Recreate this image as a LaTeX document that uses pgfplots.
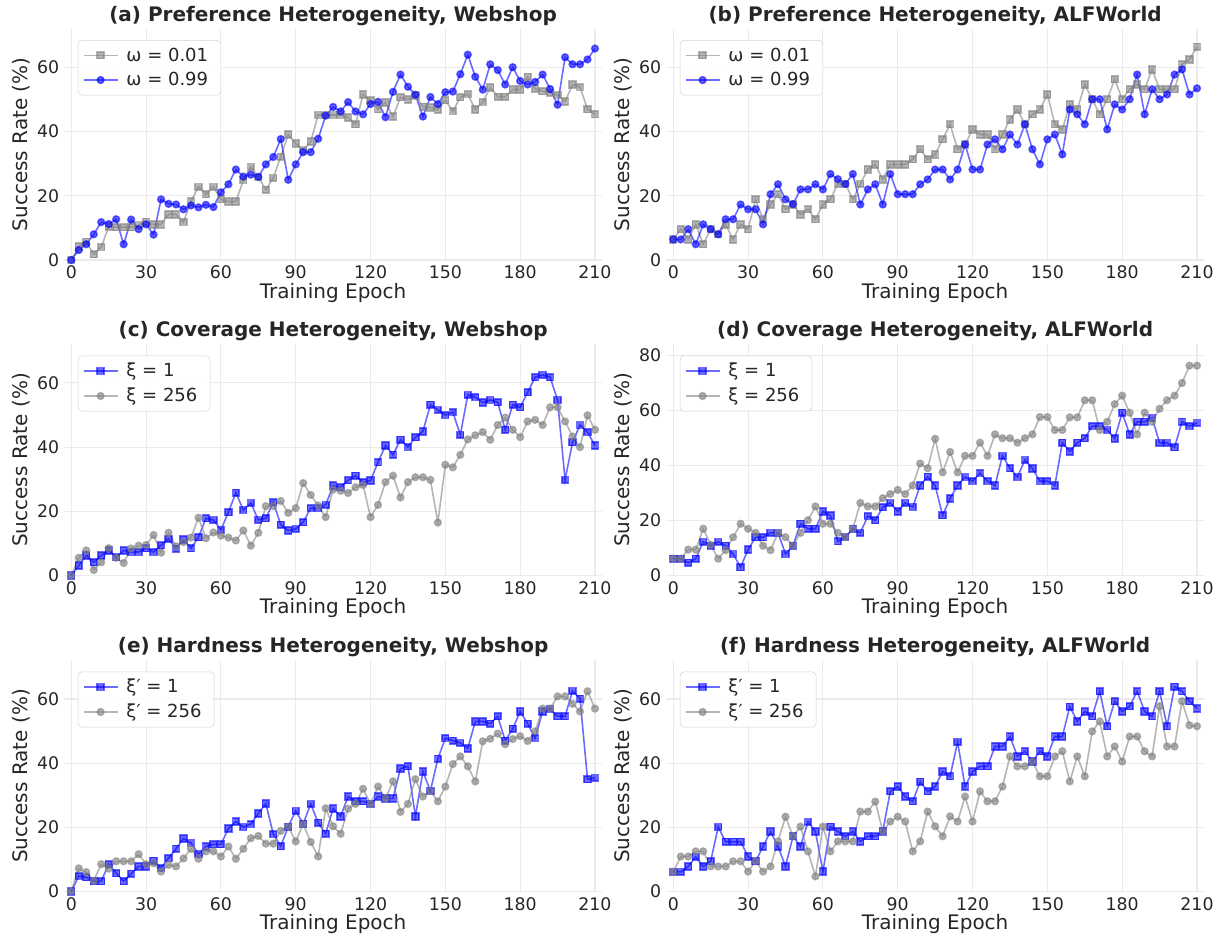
\documentclass[border=0pt]{standalone}
\usepackage{fontspec}
\setmainfont{DejaVu Sans}
\usepackage{pgfplots}
\usepackage{pgfplotstable}
\pgfplotsset{compat=1.18}
\definecolor{gridc}{HTML}{EBEBEB}
\definecolor{txt}{HTML}{262626}
\definecolor{legc}{HTML}{D4D4D4}

\pgfplotstableread{
e g b
0 0 0
3 4.2 3.1
6 5.7 4.9
9 1.8 8
12 4 11.8
15 10.4 11.2
18 10.2 12.7
21 10.2 4.9
24 10.2 12.6
27 10.9 9.6
30 11.9 11.1
33 11.1 7.9
36 11.1 18.9
39 14.2 17.5
42 14.2 17.3
45 11.8 15.8
48 18.3 17
51 22.8 16.4
54 20.5 17.2
57 22.8 16.5
60 18.9 21.1
63 18.2 23.6
66 18.2 28.2
69 24.9 26
72 29 26.6
75 25.9 25.9
78 21.9 29.8
81 25.6 32.1
84 32.2 37.7
87 39.1 25
90 36.3 29.8
93 34.3 33.6
96 36.9 33.6
99 45.2 37.8
102 45.2 45
105 45.2 47.7
108 45.2 46.3
111 44.4 49.2
114 42.3 46.3
117 51.6 45.4
120 49.8 48.6
123 47 49.3
126 49.1 44.5
129 44.7 52.4
132 50.7 57.8
135 50 54
138 51.3 51.5
141 47.8 44.7
144 47.5 50.8
147 46.9 48.6
150 49.8 52.3
153 46.4 52.5
156 50.7 57.9
159 51.7 64
162 46.9 57.1
165 49.2 53.1
168 53.8 61
171 50.9 59.2
174 50.9 54.7
177 53.1 60.1
180 53.1 55.8
183 57.1 54.7
186 53.4 55.5
189 52.6 57.8
192 52.1 53.3
195 51.4 48.4
198 49.4 63.2
201 54.7 61
204 53.9 61
207 47 62.5
210 45.4 65.9
}\tA

\pgfplotstableread{
e g b
0 6.4 6.4
3 9.6 6.4
6 6.4 9.6
9 11.1 4.9
12 4.9 11.1
15 9.6 9.6
18 8 8
21 11.1 12.7
24 6.4 12.7
27 11.1 17.3
30 9.6 15.8
33 18.9 15.8
36 12.7 11.1
39 17.3 20.5
42 20.5 23.6
45 15.8 18.9
48 17.3 17.4
51 14.2 22
54 15.8 22
57 12.7 23.6
60 17.3 22
63 18.9 26.8
66 23.7 25.2
69 23.7 23.7
72 18.9 26.8
75 23.7 17.3
78 28.2 22
81 29.8 23.6
84 25.1 17.3
87 29.8 26.8
90 29.8 20.5
93 29.8 20.5
96 31.4 20.5
99 34.5 23.6
102 31.4 25.1
105 32.9 28.2
108 37.6 28.2
111 42.3 25.1
114 34.5 28.2
117 36 36
120 40.7 28.2
123 39.1 28.2
126 39.1 36
129 34.5 37.6
132 39.1 34.5
135 43.8 39.1
138 46.9 36
141 42.3 42.3
144 45.4 34.5
147 46.9 29.8
150 51.6 37.6
153 42.3 39.1
156 40.7 32.9
159 48.5 46.9
162 46.9 45.4
165 54.7 42.3
168 50.1 50.1
171 45.4 50.1
174 50.1 40.7
177 56.3 48.5
180 50.1 46.9
183 53.2 50.1
186 54.7 57.8
189 53.2 45.4
192 59.4 53.2
195 53.2 50.1
198 53.2 51.6
201 53.2 57.8
204 61 59.4
207 62.5 51.6
210 66.5 53.5
}\tB

\pgfplotstableread{
e b g
0 0 0
3 3.1 5.5
6 6.2 7.8
9 4.1 1.7
12 6.2 4.1
15 7.8 8.5
18 5.7 5.5
21 7.8 3.9
24 7.3 8.4
27 7.3 9.3
30 8.5 9.5
33 7.3 12.6
36 9.4 7.1
39 11.4 13.3
42 8.3 9.1
45 11.2 10.4
48 8.5 11.8
51 11.9 18
54 17.8 11.6
57 17.3 13.4
60 14.2 12.4
63 19.7 11.8
66 25.8 10.9
69 20.4 14
72 22.6 9.3
75 17.3 13.3
78 17.8 21.6
81 22.8 21.6
84 15.8 23.2
87 14 19.5
90 14.5 21
93 16.6 28.8
96 21 25.1
99 21 21.8
102 22 18.2
105 28 26.8
108 27.5 26.4
111 29.7 25.7
114 31.1 27.5
117 29.1 28.2
120 29.6 18.2
123 35.3 22
126 40.5 29.1
129 37.6 31.1
132 42.3 24.3
135 40 29.1
138 43.1 30.6
141 44.9 30.6
144 53.2 29.8
147 51.6 16.5
150 50 34.5
153 50.9 33.7
156 43.8 37.6
159 56.3 42.4
162 55.6 43.7
165 53.9 44.7
168 54.7 42.3
171 54 46.9
174 45.4 49.2
177 53.2 45.4
180 52.4 43.1
183 57.1 48
186 61.8 48.5
189 62.5 46.9
192 61.8 52.4
195 54.7 52.4
198 29.8 48
201 41.5 43.3
204 46.9 40
207 44.7 49.9
210 40.5 45.4
}\tC

\pgfplotstableread{
e b g
0 6.1 6.1
3 6.1 6.1
6 4.6 9.4
9 6.1 9.4
12 12.2 17
15 10.8 11.1
18 12.2 6.1
21 10.8 9.2
24 7.8 13.9
27 3 18.8
30 9.4 17
33 13.9 15.5
36 13.9 10.8
39 15.5 9.2
42 15.5 15.5
45 7.8 13.9
48 10.8 10.8
51 18.8 15.5
54 17 20.1
57 17 25.1
60 23.3 18.8
63 21.8 18.8
66 12.4 15.5
69 14 14
72 17 17
75 15.5 26.4
78 21.6 25.1
81 20.1 25.1
84 24.8 28.1
87 26.4 29.6
90 23.3 31.1
93 26.4 29.6
96 24.9 32.7
99 32.7 40.7
102 35.9 39
105 32.7 49.7
108 21.9 37.5
111 28 44.9
114 32.7 37.5
117 35.8 43.5
120 34.3 43.5
123 37.2 48.3
126 34.3 43.5
129 32.7 51.3
132 43.5 49.9
135 39 49.9
138 35.8 48.3
141 42 49.9
144 38.9 51.3
147 34.3 57.6
150 34.3 57.6
153 32.7 52.9
156 48.3 52.9
159 45.1 57.5
162 48.3 57.5
165 49.9 63.7
168 54.3 63.7
171 54.3 52.9
174 52.9 55.9
177 49.8 62.3
180 59.2 65.4
183 51.3 59.2
186 55.9 51.3
189 55.9 59.2
192 57.3 55.9
195 48.2 60.6
198 48.2 63.7
201 46.6 65.4
204 55.9 70
207 54.3 76.3
210 55.5 76.3
}\tD

\pgfplotstableread{
e b g
0 0 0
3 4.8 7.2
6 4.4 6
9 3.2 3.3
12 3.2 8.5
15 8.5 7.1
18 5.7 9.4
21 3.2 9.4
24 5.5 9.4
27 7.8 11.6
30 7.8 8.5
33 9.6 8.8
36 7.3 6.2
39 10.4 8.3
42 13.3 7.8
45 16.5 10.3
48 15.1 13.3
51 11.7 10.2
54 14 12.5
57 14.7 12.5
60 14.7 10.9
63 19.6 14
66 21.8 10.2
69 20.1 13.3
72 21 16.6
75 24.3 17.3
78 27.4 14.9
81 17.9 14.9
84 14.1 18.9
87 20.2 20.2
90 25.1 15.6
93 21.1 21
96 27.3 15.4
99 21.4 10.9
102 18 25.9
105 25.9 20.3
108 23.4 18
111 29.6 25.8
114 28.1 27.3
117 28.1 32
120 27.3 27.3
123 29.6 32.7
126 29 29
129 29 34.3
132 38.3 24.8
135 39 27.3
138 23.4 35
141 37.4 29.6
144 31.3 31.3
147 41.4 28.1
150 47.8 32.7
153 47 39.7
156 46.3 42.1
159 44.6 39
162 53 34.3
165 53 46.8
168 52.3 47.6
171 54.6 49.2
174 47 45.9
177 50.7 47.5
180 56.1 48.4
183 52.3 46.9
186 47.8 49.9
189 56.1 57
192 56.9 57
195 54.6 60.8
198 54.6 60.8
201 62.5 58.5
204 60.1 56.1
207 35 62.4
210 35.4 57
}\tE

\pgfplotstableread{
e b g
0 6.1 6.1
3 6.1 10.9
6 7.8 10.9
9 10.8 12.5
12 7.8 12.5
15 9.4 7.8
18 20.1 7.8
21 15.5 7.8
24 15.5 9.4
27 15.5 9.4
30 10.9 6.2
33 9.4 9.4
36 14 6.2
39 18.7 7.8
42 14 15.6
45 7.8 23.3
48 17.2 17.2
51 14 20.2
54 21.7 12.5
57 18.7 4.7
60 6.2 20.2
63 20.2 12.5
66 18.7 15.6
69 17.2 15.6
72 18.7 15.6
75 15.6 24.9
78 17.2 24.9
81 17.2 28
84 18.7 18.7
87 31.2 21.8
90 32.7 23.3
93 29.6 21.8
96 28.1 12.5
99 34.2 15.6
102 31.2 24.9
105 32.7 20.3
108 37.4 17.2
111 35.9 23.4
114 46.6 21.8
117 32.7 29.6
120 37.4 21.8
123 39 31.2
126 39 28.1
129 45.2 28.1
132 45.2 32.7
135 48.3 42.1
138 42.1 39
141 43.7 39
144 40.5 40.5
147 43.7 35.9
150 42.1 35.9
153 48.3 42.1
156 48.3 43.7
159 57.6 34.3
162 53 42.1
165 56.1 35.9
168 54.6 49.9
171 62.4 53
174 51.5 42.1
177 59.3 45.2
180 56.1 40.5
183 57.7 48.3
186 62.4 48.3
189 56.1 43.7
192 54.6 42.1
195 62.4 57.7
198 51.5 45.2
201 63.8 45.2
204 62.4 59.3
207 59.3 51.8
210 57 51.5
}\tF

\pgfplotsset{
  panel/.style={
    scale only axis, width=404pt, height=173.25pt,
    anchor=south west,
    xmin=-3, xmax=213, ymin=0, ymax=72,
    xtick={0,30,...,210}, ytick={0,20,40,60},
    grid=major, major grid style={draw=gridc, line width=0.8pt},
    axis line style={draw=none}, major tick length=0pt, tick style={draw=none},
    /pgf/number format/assume math mode=true,
    tick label style={font=\fontsize{13}{15}\selectfont, text=txt},
    xticklabel style={yshift=-1pt},
    label style={font=\fontsize{15}{18}\selectfont, text=txt},
    xlabel={Training Epoch}, ylabel={Success Rate (\%)},
    xlabel style={yshift=4pt},
    ylabel style={yshift=-2pt},
    title style={font=\fontsize{15}{18}\selectfont\bfseries, text=txt, yshift=-7pt},
    clip=false,
    legend style={at={(axis description cs:0.026,0.952)}, anchor=north west,
      draw=legc, rounded corners=3pt, fill=white, fill opacity=0.85,
      draw opacity=1, text opacity=1, text=txt,
      font=\fontsize{13.5}{16}\selectfont, inner sep=3.5pt, row sep=3pt,
      nodes={inner xsep=6pt}},
    legend cell align=left,
    legend image code/.code={
      \draw[mark repeat=2,mark phase=2] plot coordinates {(0cm,0cm) (0.45cm,0cm) (0.9cm,0cm)};},
  },
  bl/.style={color=blue, opacity=0.58, line width=1.2pt, mark size=2.5pt, mark options={draw=none}},
  gr/.style={color=gray, opacity=0.58, line width=1.2pt, mark size=2.5pt, mark options={draw=none}},
}

\begin{document}
\begin{tikzpicture}
\useasboundingbox (0,0) rectangle (918.75pt,703.5pt);

% (a)
\begin{axis}[panel, at={(47.85pt,508.5pt)},
  title={(a) Preference Heterogeneity, Webshop}]
\addplot[gr, mark=square*] table[x=e,y=g]{\tA};
\addlegendentry{ω = 0.01}
\addplot[bl, mark=*] table[x=e,y=b]{\tA};
\addlegendentry{ω = 0.99}
\end{axis}

% (b)
\begin{axis}[panel, at={(499.35pt,508.5pt)},
  title={(b) Preference Heterogeneity, ALFWorld}]
\addplot[gr, mark=square*] table[x=e,y=g]{\tB};
\addlegendentry{ω = 0.01}
\addplot[bl, mark=*] table[x=e,y=b]{\tB};
\addlegendentry{ω = 0.99}
\end{axis}

% (c)
\begin{axis}[panel, at={(47.85pt,271.9pt)},
  title={(c) Coverage Heterogeneity, Webshop}]
\addplot[bl, mark=square*] table[x=e,y=b]{\tC};
\addlegendentry{ξ = 1}
\addplot[gr, mark=*] table[x=e,y=g]{\tC};
\addlegendentry{ξ = 256}
\end{axis}

% (d)
\begin{axis}[panel, at={(499.35pt,271.9pt)}, ymax=84, ytick={0,20,40,60,80},
  title={(d) Coverage Heterogeneity, ALFWorld}]
\addplot[bl, mark=square*] table[x=e,y=b]{\tD};
\addlegendentry{ξ = 1}
\addplot[gr, mark=*] table[x=e,y=g]{\tD};
\addlegendentry{ξ = 256}
\end{axis}

% (e)
\begin{axis}[panel, at={(47.85pt,34.9pt)},
  title={(e) Hardness Heterogeneity, Webshop}]
\addplot[bl, mark=square*] table[x=e,y=b]{\tE};
\addlegendentry{ξ′ = 1}
\addplot[gr, mark=*] table[x=e,y=g]{\tE};
\addlegendentry{ξ′ = 256}
\end{axis}

% (f)
\begin{axis}[panel, at={(499.35pt,34.9pt)},
  title={(f) Hardness Heterogeneity, ALFWorld}]
\addplot[bl, mark=square*] table[x=e,y=b]{\tF};
\addlegendentry{ξ′ = 1}
\addplot[gr, mark=*] table[x=e,y=g]{\tF};
\addlegendentry{ξ′ = 256}
\end{axis}
\end{tikzpicture}
\end{document}
